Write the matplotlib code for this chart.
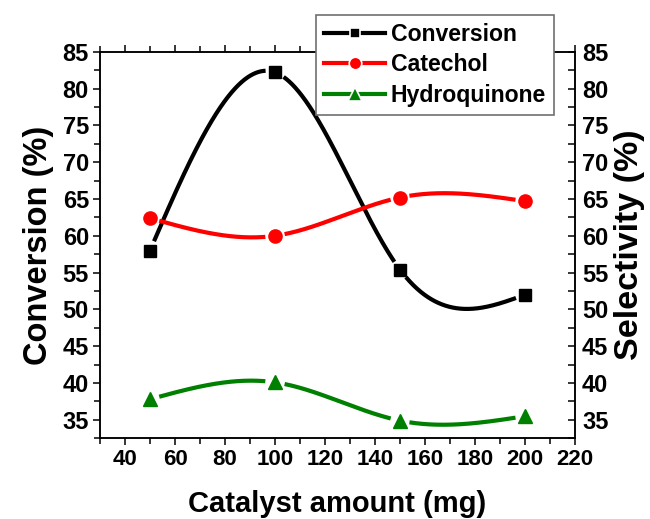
import numpy as np
import matplotlib
matplotlib.use("Agg")
import matplotlib.pyplot as plt
from matplotlib.lines import Line2D
from matplotlib.ticker import MultipleLocator

plt.rcParams['font.family'] = ['Liberation Sans', 'DejaVu Sans']
plt.rcParams['font.weight'] = 'bold'

# Data
catalyst_mg = [50, 100, 150, 200]
conversion = [58.0, 82.2, 55.4, 52.0]
catechol = [62.4, 60.0, 65.2, 64.7]
hydroquinone = [37.8, 40.1, 34.9, 35.5]
series_names = ["Conversion", "Catechol", "Hydroquinone"]


def natural_spline(x, y, xs):
    x = np.asarray(x, float)
    y = np.asarray(y, float)
    n = len(x)
    h = np.diff(x)
    A = np.zeros((n, n))
    b = np.zeros(n)
    A[0, 0] = A[-1, -1] = 1.0
    for i in range(1, n - 1):
        A[i, i - 1] = h[i - 1]
        A[i, i] = 2 * (h[i - 1] + h[i])
        A[i, i + 1] = h[i]
        b[i] = 6 * ((y[i + 1] - y[i]) / h[i] - (y[i] - y[i - 1]) / h[i - 1])
    M = np.linalg.solve(A, b)
    idx = np.clip(np.searchsorted(x, xs) - 1, 0, n - 2)
    x0, x1 = x[idx], x[idx + 1]
    hh = x1 - x0
    t0 = x1 - xs
    t1 = xs - x0
    return (M[idx] * t0 ** 3 / (6 * hh) + M[idx + 1] * t1 ** 3 / (6 * hh)
            + (y[idx] / hh - M[idx] * hh / 6) * t0
            + (y[idx + 1] / hh - M[idx + 1] * hh / 6) * t1)


fig = plt.figure(figsize=(6.5, 5.19), dpi=100)
ax = fig.add_axes([100 / 650, 1 - 438.3 / 519, 475 / 650, (438.3 - 51.7) / 519])
ax2 = ax.twinx()

for a in (ax, ax2):
    a.set_xlim(30, 220)
    a.set_ylim(32.5, 85)
    for s in a.spines.values():
        s.set_linewidth(1.1)

ax.xaxis.set_major_locator(MultipleLocator(20))
ax.xaxis.set_minor_locator(MultipleLocator(10))
for a in (ax, ax2):
    a.yaxis.set_major_locator(MultipleLocator(5))
    a.yaxis.set_minor_locator(MultipleLocator(2.5))

ax.set_xticks(np.arange(40, 221, 20))
ax.tick_params(axis='x', which='major', direction='out', length=5, width=1.1,
               labelsize=16, pad=3, top=True)
ax.tick_params(axis='x', which='minor', direction='out', length=4, width=1.1, top=True)
ax.tick_params(axis='y', which='major', direction='out', length=5, width=1.1,
               labelsize=17, pad=3)
ax.tick_params(axis='y', which='minor', direction='out', length=4, width=1.1)
ax2.tick_params(axis='y', which='major', direction='in', length=5, width=1.1,
                labelsize=17, pad=5)
ax2.tick_params(axis='y', which='minor', direction='in', length=5, width=1.1)

ax.set_xlabel("Catalyst amount (mg)", fontsize=21, fontweight='bold', labelpad=14)
ax.set_ylabel("Conversion (%)", fontsize=23.5, fontweight='bold', labelpad=6)
ax2.set_ylabel("Selectivity (%)", fontsize=24.5, fontweight='bold', labelpad=4)

styles = [
    (ax, conversion, 'black', 's', 8),
    (ax2, catechol, 'red', 'o', 9.5),
    (ax2, hydroquinone, 'green', '^', 10),
]

xs = np.linspace(catalyst_mg[0], catalyst_mg[-1], 1500)
gap_px = 9.5
for a, vals, color, marker, ms in styles:
    ys = natural_spline(catalyst_mg, vals, xs)
    pts = a.transData.transform(np.column_stack([xs, ys]))
    mk = a.transData.transform(np.column_stack([catalyst_mg, vals]))
    d = np.min(np.hypot(pts[:, None, 0] - mk[None, :, 0],
                        pts[:, None, 1] - mk[None, :, 1]), axis=1)
    ys_masked = np.where(d < gap_px, np.nan, ys)
    a.plot(xs, ys_masked, color=color, lw=3.0, solid_capstyle='butt', zorder=2)
    a.plot(catalyst_mg, vals, linestyle='none', marker=marker, ms=ms,
           color=color, zorder=3)

handles = [Line2D([], [], color=c, lw=3.0, marker=m, ms=ms * 0.95,
                  markeredgecolor='white', markerfacecolor=c, markeredgewidth=1.2)
           for _, _, c, m, ms in styles]
leg = fig.legend(handles, series_names, loc='upper left',
                 bbox_to_anchor=(316 / 650, 1 - 15 / 519),
                 prop={'size': 16.6, 'weight': 'bold'},
                 frameon=True, fancybox=False, edgecolor='#707070',
                 handlelength=2.65, handletextpad=0.25, labelspacing=0.32,
                 borderpad=0.35, borderaxespad=0)
leg.get_frame().set_linewidth(1.2)
leg.get_frame().set_alpha(1.0)

fig.savefig("out.png", dpi=100)
